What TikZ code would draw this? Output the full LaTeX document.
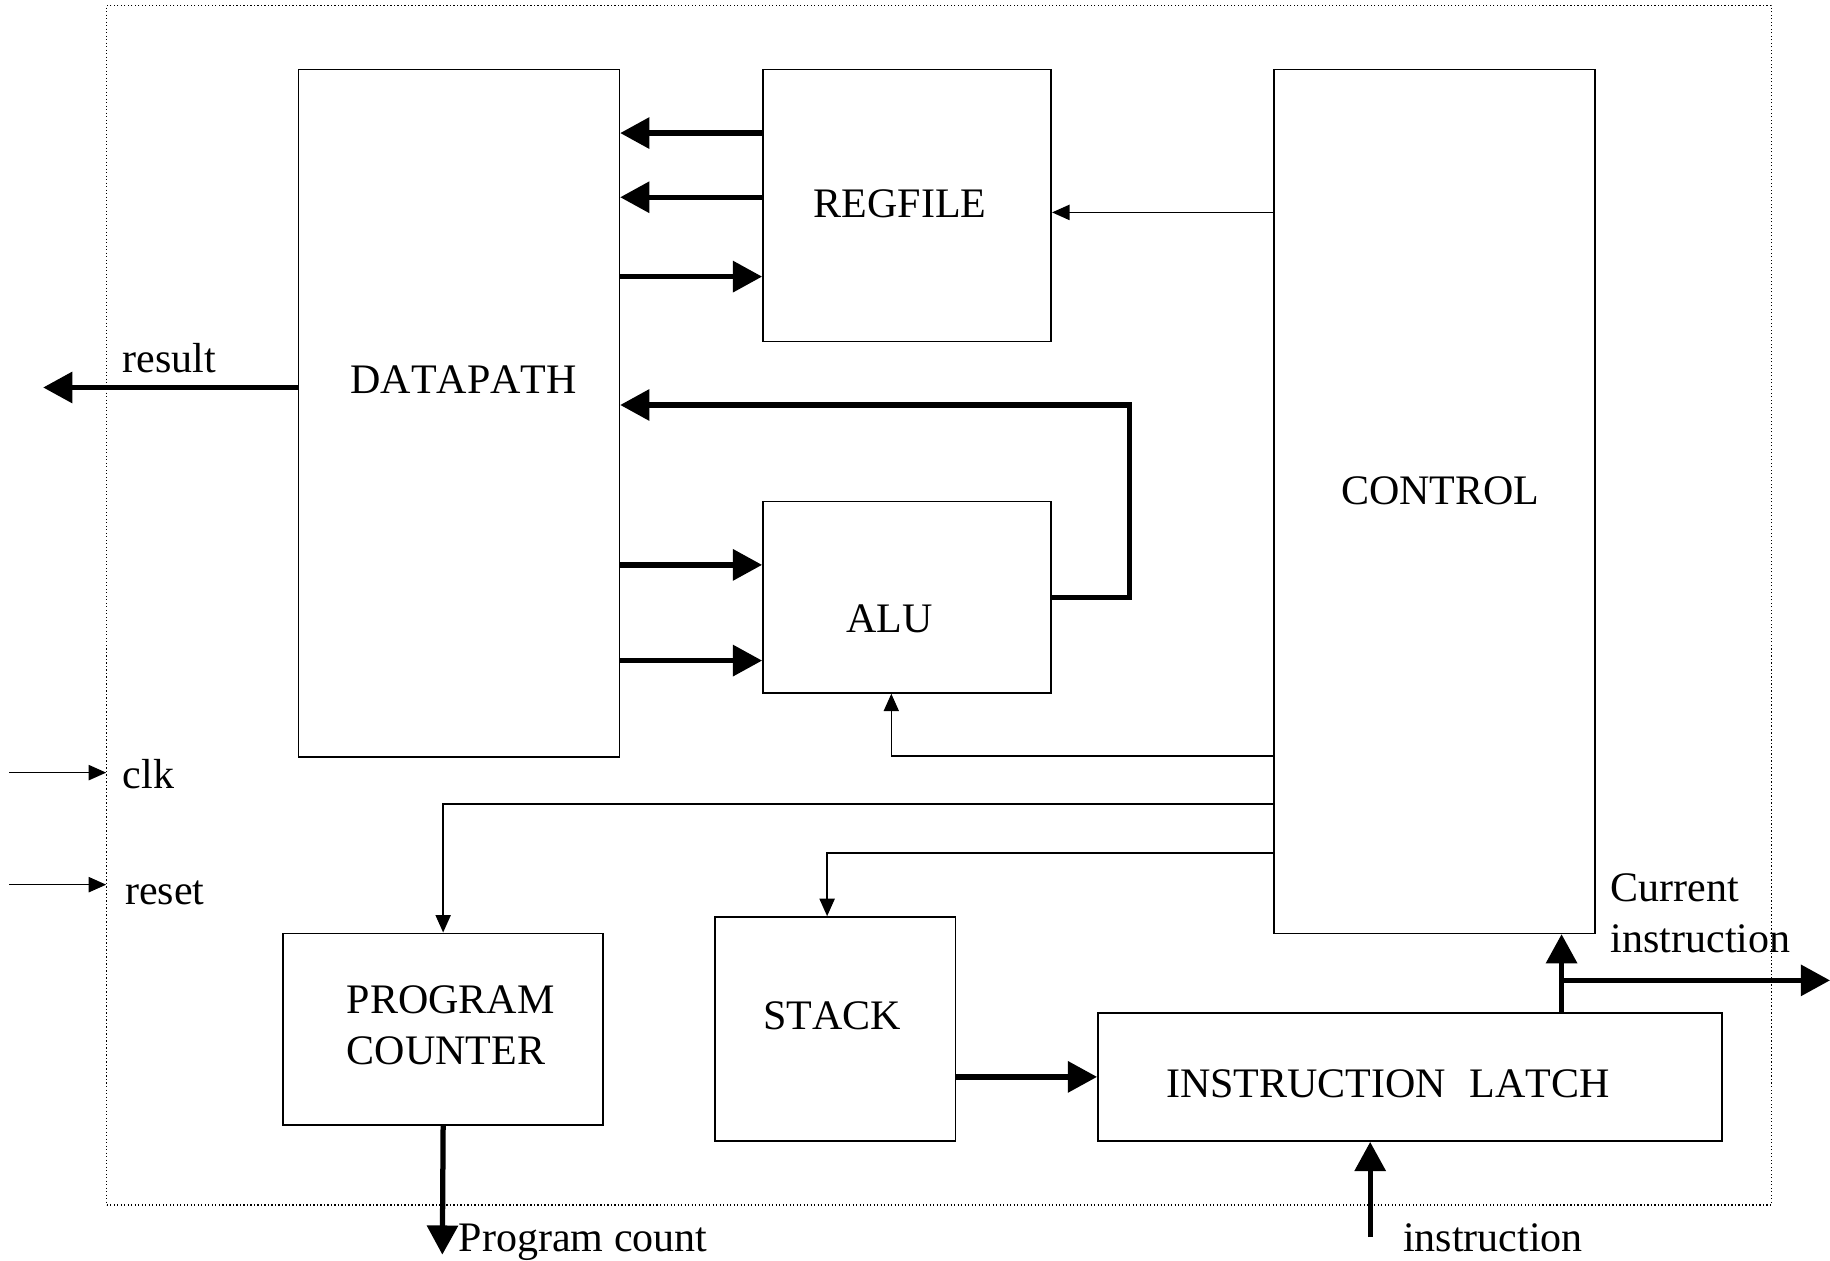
\documentclass[tikz,border=0pt]{standalone}
\usepackage{fontspec}
\setmainfont{Liberation Serif}[Kerning=Off]
\usetikzlibrary{arrows.meta}
\begin{document}
\begin{tikzpicture}[x=1pt,y=-1pt,
  box/.style={draw, line width=1.4pt, rectangle, inner sep=0pt, anchor=north west},
  txt/.style={anchor=base west, inner sep=0pt, font=\fontsize{36}{44}\selectfont},
  bus/.style={line width=4.5pt, line join=miter, -{Triangle[length=25pt,width=26pt]}},
  wire/.style={line width=1.4pt, -{Triangle[length=15pt,width=13pt]}},
]
\useasboundingbox (0,0) rectangle (1568,1080);

% outer dotted boundary of the processor
\node[draw, dotted, line width=1pt, inner sep=0pt, anchor=north west,
      minimum width=1426pt, minimum height=1028pt] (frame) at (91,4) {};

% functional blocks
\node[box, minimum width=275pt, minimum height=589pt] (dp)  at (255,59)  {};
\node[box, minimum width=247pt, minimum height=233pt] (rf)  at (653,59)  {};
\node[box, minimum width=275pt, minimum height=740pt] (ctl) at (1091,59) {};
\node[box, minimum width=247pt, minimum height=164pt] (alu) at (653,429) {};
\node[box, minimum width=274pt, minimum height=164pt] (pc)  at (242,799) {};
\node[box, minimum width=206pt, minimum height=192pt] (stk) at (612,785) {};
\node[box, minimum width=535pt, minimum height=110pt] (il)  at (940,867) {};

% block names
\node[txt] (tdp)  at (300,337)  {DATAPATH};
\node[txt] (trf)  at (697,186)  {REGFILE};
\node[txt] (tctl) at (1149,432) {CONTROL};
\node[txt] (talu) at (725,542)  {ALU};
\node[txt] (tpc1) at (297,868)  {PROGRAM};
\node[txt] (tpc2) at (297,912)  {COUNTER};
\node[txt] (tstk) at (654,882)  {STACK};
\node[txt] (til)  at (999,940)  {INSTRUCTION\hspace{0.55em}LATCH};

% port names
\node[txt] (lres)  at (105,319)  {result};
\node[txt] (lclk)  at (105,676)  {clk};
\node[txt] (lrst)  at (107,775)  {reset};
\node[txt] (lcur1) at (1380,772) {Current};
\node[txt] (lcur2) at (1380,816) {instruction};
\node[txt] (lpc)   at (393,1072) {Program count};
\node[txt] (lins)  at (1202,1072){instruction};

% free ends of external ports
\coordinate (resout) at (37,332);
\coordinate (curout) at (1568,840);
\coordinate (curtap) at (1338,840);
\coordinate (pcout)  at (379,1075);
\coordinate (insin)  at (1174,1060);
\coordinate (clkin)  at (8,662);
\coordinate (rstin)  at (8,758);
\coordinate (fbA)    at (968,512);
\coordinate (fbB)    at (968,347);

% data buses
\draw[bus] (rf.west |- 0,114) -- (dp.east |- 0,114);
\draw[bus] (rf.west |- 0,169) -- (dp.east |- 0,169);
\draw[bus] (dp.east |- 0,237) -- (rf.west |- 0,237);
\draw[bus] (dp.east |- 0,484) -- (alu.west |- 0,484);
\draw[bus] (dp.east |- 0,566) -- (alu.west |- 0,566);
\draw[bus] (alu.east |- fbA) -- (fbA) -- (fbB) -- (dp.east |- fbB);
\draw[bus] (dp.west |- resout) -- (resout);
\draw[bus] (stk.east |- il.west) -- (il.west);
\draw[bus] (il.north -| curtap) -- (ctl.south -| curtap);
\draw[bus] (curtap) -- (curout);
\draw[bus] (pc.south) -- (pcout);
\draw[bus] (insin) -- (il.south -| insin);

% control lines
\draw[wire] (ctl.west |- 0,182) -- (rf.east |- 0,182);
\draw[wire] (ctl.west |- 0,648) -| ([xshift=-13.5pt]alu.south);
\draw[wire] (ctl.west |- 0,689) -| (pc.north);
\draw[wire] (ctl.west |- 0,731) -| ([xshift=-7pt]stk.north);
\draw[wire] (clkin) -- (frame.west |- clkin);
\draw[wire] (rstin) -- (frame.west |- rstin);
\end{tikzpicture}
\end{document}
